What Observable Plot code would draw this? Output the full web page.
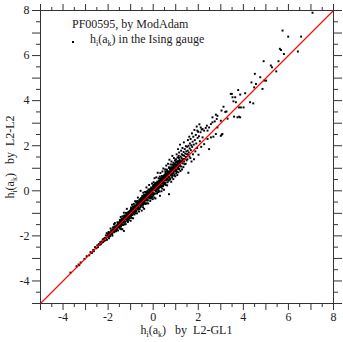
<!DOCTYPE html>
<html><head><meta charset="utf-8">
<script src="https://cdn.jsdelivr.net/npm/d3@7"></script>
<script src="https://cdn.jsdelivr.net/npm/@observablehq/plot@0.6"></script>
<style>
body{margin:0;background:#fff;}
#wrap{position:relative;width:343px;height:342px;font-family:"Liberation Serif",serif;color:#222;}
.lab{position:absolute;font-size:12px;white-space:nowrap;line-height:14px;}
.lab sub{font-size:8px;vertical-align:-3px;line-height:0;}
.mk{position:absolute;width:1.5px;height:1.5px;background:#000;}
</style></head><body><div id="wrap"></div>
<script>
const domainGL1 = [-5, 8];
const domainL2 = [-5, 8];
const majorTicks = [-5,-4,-3,-2,-1,0,1,2,3,4,5,6,7,8];
const minorTicks = [-4.5,-3.5,-2.5,-1.5,-0.5,0.5,1.5,2.5,3.5,4.5,5.5,6.5,7.5];
const labelTicks = [-4,-2,0,2,4,6,8];
const legendTitle = "PF00595, by ModAdam";
const legendSeries = "h<sub>i</sub>(a<sub>k</sub>) in the Ising gauge";
const xLabel = "h<sub>i</sub>(a<sub>k</sub>)&nbsp;&nbsp; by &nbsp;L2-GL1";
const yLabel = "h<sub>i</sub>(a<sub>k</sub>)&nbsp;&nbsp; by &nbsp;L2-L2";

// [h by L2-GL1, h by L2-L2]
const points = [
[-3.67,-3.63],[-3.4,-3.35],[-3.31,-3.27],[-3.28,-3.3],[-3.22,-3.18],[-3.05,-3.02],[-2.95,-2.9],[-2.84,-2.86],[-2.78,-2.72],[-2.72,-2.76],[-2.66,-2.62],[-2.63,-2.68],[-2.58,-2.5],[-2.52,-2.55],[-2.48,-2.42],[-2.45,-2.5],[-2.41,-2.36],[-2.38,-2.4],[-2.35,-2.28],[-2.32,-2.37],[-2.29,-2.25],[-2.27,-2.3],[-2.24,-2.16],[-2.22,-2.27],[-2.2,-2.14],[-2.18,-2.22],[-2.16,-2.1],
[-2.14,-2.09],[-2.12,-2.20],[-2.10,-1.98],[-2.08,-2.10],[-2.06,-1.88],[-2.05,-2.17],[-2.03,-2.00],[-2.01,-1.92],[-1.99,-2.04],[-1.98,-1.83],[-1.96,-2.11],[-1.94,-1.94],[-1.93,-1.86],[-1.91,-2.01],[-1.89,-1.67],[-1.88,-1.91],[-1.86,-1.75],[-1.84,-1.91],[-1.83,-1.79],[-1.81,-1.99],[-1.79,-1.71],[-1.78,-1.62],[-1.76,-1.80],[-1.75,-1.73],[-1.74,-1.48],[-1.73,-1.84],[-1.71,-1.58],[-1.70,-1.43],[-1.68,-1.74],[-1.67,-1.61],[-1.65,-1.79],[-1.64,-1.54],[-1.62,-1.61],[-1.61,-1.70],[-1.59,-1.40],[-1.58,-1.53],[-1.56,-1.76],[-1.55,-1.41],[-1.53,-1.55],[-1.52,-1.44],[-1.51,-1.63],[-1.37,-1.70],[-1.30,-1.78],
[-1.50,-1.45],[-1.49,-1.60],[-1.48,-1.29],[-1.47,-1.51],[-1.47,-1.34],[-1.46,-1.69],[-1.45,-1.43],[-1.44,-1.16],[-1.43,-1.59],[-1.42,-1.35],[-1.41,-1.48],[-1.40,-1.24],[-1.40,-1.71],[-1.39,-1.38],[-1.38,-1.27],[-1.37,-1.50],[-1.36,-1.13],[-1.35,-1.37],[-1.34,-1.30],[-1.33,-1.52],[-1.32,-1.19],[-1.31,-1.41],[-1.30,-0.97],[-1.29,-1.35],[-1.28,-1.20],[-1.28,-1.49],[-1.27,-1.24],[-1.26,-1.09],[-1.25,-1.40],[-1.24,-1.25],[-1.23,-1.15],[-1.22,-1.48],[-1.21,-0.98],[-1.20,-1.28],[-1.19,-1.08],[-1.18,-1.21],[-1.17,-0.80],[-1.16,-1.32],[-1.15,-1.11],[-1.14,-1.25],[-1.13,-1.02],[-1.12,-1.38],[-1.11,-0.95],[-1.10,-1.16],[-1.09,-1.04],[-1.08,-1.29],[-1.07,-0.92],[-1.06,-1.12],[-1.05,-0.99],[-1.04,-1.21],[-1.03,-0.88],[-1.02,-1.06],[-1.01,-1.17],[-1.00,-0.94],[-1.00,-1.33],
[-1.45,-1.47],[-1.38,-1.36],[-1.31,-1.30],[-1.24,-1.21],[-1.17,-1.15],[-1.10,-1.08],[-1.03,-1.02],
[-0.99,-0.86],[-0.99,-1.12],[-0.98,-0.74],[-0.97,-0.98],[-0.96,-0.82],[-0.95,-1.20],[-0.95,-0.93],[-0.94,-0.62],[-0.93,-1.05],[-0.92,-0.85],[-0.91,-0.97],[-0.90,-0.70],[-0.89,-1.22],[-0.89,-0.88],[-0.88,-0.76],[-0.87,-1.01],[-0.86,-0.58],[-0.85,-0.84],[-0.84,-0.73],[-0.83,-1.05],[-0.82,-0.67],[-0.81,-0.90],[-0.80,-0.46],[-0.80,-0.80],[-0.79,-0.66],[-0.78,-0.99],[-0.77,-0.71],[-0.76,-0.52],[-0.75,-0.88],[-0.74,-0.74],[-0.73,-0.62],[-0.72,-1.00],[-0.71,-0.45],[-0.70,-0.77],[-0.70,-0.58],[-0.69,-0.71],[-0.68,-0.30],[-0.67,-0.83],[-0.66,-0.59],[-0.65,-0.76],[-0.64,-0.50],[-0.63,-0.92],[-0.62,-0.42],[-0.61,-0.65],[-0.60,-0.52],[-0.60,-0.81],[-0.59,-0.38],[-0.58,-0.61],[-0.57,-0.47],[-0.56,-0.72],[-0.56,0.00],[-0.55,-0.33],[-0.54,-0.55],[-0.53,-0.66],[-0.52,-0.41],[-0.51,-0.88],[-0.50,-0.49],[-0.50,-0.30],
[-0.97,-0.95],[-0.90,-0.89],[-0.83,-0.81],[-0.76,-0.75],[-0.69,-0.67],[-0.62,-0.60],[-0.55,-0.53],
[-0.49,-0.35],[-0.49,-0.62],[-0.48,-0.22],[-0.47,-0.50],[-0.46,-0.32],[-0.45,-0.73],[-0.45,-0.44],[-0.44,-0.08],[-0.43,-0.58],[-0.42,-0.33],[-0.41,-0.46],[-0.40,-0.17],[-0.40,-0.80],[-0.39,-0.37],[-0.38,-0.23],[-0.37,-0.51],[-0.36,-0.05],[-0.35,-0.34],[-0.34,-0.26],[-0.33,-0.58],[-0.32,-0.15],[-0.31,-0.42],[-0.30,0.15],[-0.30,-0.30],[-0.29,-0.17],[-0.28,-0.55],[-0.27,-0.22],[-0.26,-0.01],[-0.25,-0.40],[-0.24,-0.23],[-0.23,-0.11],[-0.22,-0.56],[-0.21,0.06],[-0.20,-0.27],[-0.20,-0.06],[-0.19,-0.20],[-0.18,0.26],[-0.17,-0.34],[-0.16,-0.08],[-0.15,-0.29],[-0.14,0.00],[-0.13,-0.45],[-0.12,0.08],[-0.11,-0.15],[-0.10,-0.01],[-0.10,-0.34],[-0.09,0.15],[-0.08,-0.10],[-0.07,0.05],[-0.06,-0.26],[-0.05,0.32],[-0.05,-0.02],[-0.04,-0.14],[-0.03,0.11],[-0.02,-0.37],[-0.01,0.02],[0.00,0.19],[0.00,-0.21],
[-0.47,-0.41],[-0.43,-0.27],[-0.38,-0.40],[-0.34,-0.18],[-0.29,-0.36],[-0.25,-0.13],[-0.21,-0.30],[-0.17,-0.02],[-0.13,-0.22],[-0.09,-0.06],[-0.04,-0.25],[-0.02,0.08],
[-0.46,-0.45],[-0.39,-0.38],[-0.32,-0.30],[-0.25,-0.24],[-0.18,-0.16],[-0.11,-0.10],[-0.04,-0.03],
[0.01,0.16],[0.01,-0.16],[0.02,0.38],[0.03,0.04],[0.04,0.26],[0.05,-0.30],[0.05,0.10],[0.06,0.56],[0.07,-0.12],[0.08,0.22],[0.09,0.02],[0.10,0.35],[0.10,-0.34],[0.11,0.13],[0.12,0.28],[0.13,-0.03],[0.14,0.60],[0.15,0.18],[0.16,0.05],[0.17,-0.12],[0.18,0.41],[0.19,0.10],[0.20,0.80],[0.20,0.22],[0.21,0.36],[0.22,-0.06],[0.23,0.30],[0.24,0.55],[0.25,0.12],[0.26,0.27],[0.27,0.44],[0.28,-0.03],[0.29,0.63],[0.30,0.26],[0.30,-0.22],[0.31,0.33],[0.32,0.79],[0.33,0.16],[0.34,0.45],[0.35,0.24],[0.36,0.58],[0.37,-0.02],[0.38,0.66],[0.39,0.36],[0.40,0.49],[0.40,0.10],[0.41,0.86],[0.42,0.40],[0.43,0.56],[0.44,0.21],[0.45,0.99],[0.45,0.48],[0.46,0.33],[0.47,0.64],[0.48,0.05],[0.49,0.53],[0.50,0.71],[0.50,0.30],
[0.03,0.20],[0.07,0.30],[0.12,0.09],[0.16,0.34],[0.21,0.15],[0.26,0.45],[0.31,0.19],[0.35,0.40],[0.39,0.22],[0.43,0.42],[0.47,0.29],
[0.04,0.05],[0.11,0.12],[0.18,0.20],[0.25,0.26],[0.32,0.34],[0.39,0.41],[0.46,0.48],
[0.51,0.65],[0.52,0.35],[0.53,0.95],[0.54,0.58],[0.55,0.79],[0.56,0.26],[0.57,0.69],[0.58,1.12],[0.59,0.47],[0.60,0.75],[0.60,0.55],[0.61,0.94],[0.62,0.24],[0.63,0.71],[0.64,0.87],[0.65,0.52],[0.66,1.20],[0.67,0.76],[0.68,0.62],[0.69,0.45],[0.70,1.02],[0.70,-0.15],[0.71,0.78],[0.72,1.38],[0.73,0.85],[0.74,1.00],[0.75,0.50],[0.76,0.92],[0.77,1.17],[0.78,0.69],[0.79,0.85],[0.80,1.05],[0.80,0.40],[0.81,1.30],[0.82,0.88],[0.83,0.98],[0.84,0.60],[0.85,1.55],[0.86,0.96],[0.87,0.78],[0.88,1.12],[0.89,0.52],[0.90,1.04],[0.90,1.25],[0.91,0.85],[0.92,1.45],[0.93,1.00],[0.94,0.72],[0.95,1.19],[0.96,0.90],[0.97,1.35],[0.98,0.64],[0.99,1.08],[1.00,1.25],[1.00,0.88],
[0.54,0.72],[0.59,0.64],[0.65,0.80],[0.71,0.62],[0.76,0.84],[0.83,0.74],[0.88,0.95],[0.94,1.06],[0.99,0.95],
[0.53,0.56],[0.63,0.66],[0.73,0.76],[0.83,0.86],[0.93,0.97],
[1.01,1.40],[1.02,0.78],[1.03,1.16],[1.04,1.62],[1.05,0.95],[1.06,1.28],[1.07,0.70],[1.08,1.48],[1.09,1.13],[1.10,1.85],[1.10,1.00],[1.11,1.33],[1.12,0.82],[1.13,1.55],[1.14,1.22],[1.15,1.70],[1.16,0.96],[1.17,1.38],[1.18,1.15],[1.19,2.05],[1.20,1.30],[1.21,0.88],[1.22,1.52],[1.23,1.25],[1.24,1.78],[1.25,1.08],[1.26,1.45],[1.27,1.62],[1.28,0.95],[1.29,1.36],[1.30,1.90],[1.31,1.22],[1.32,1.58],[1.33,1.40],[1.34,1.05],[1.35,1.72],[1.36,2.15],[1.37,1.30],[1.38,1.55],[1.39,1.18],[1.40,1.85],[1.41,1.42],[1.42,1.65],[1.44,1.20],[1.45,1.98],[1.46,1.50],[1.47,1.75],[1.48,1.35],[1.50,1.62],
[1.05,1.10],[1.15,1.20],[1.25,1.30],[1.35,1.40],[1.45,1.50],
[1.51,1.95],[1.52,1.40],[1.53,1.78],[1.54,2.25],[1.55,1.60],[1.56,0.80],[1.57,2.00],[1.58,1.70],[1.60,2.40],[1.61,1.52],[1.62,1.88],[1.63,2.10],[1.65,1.45],[1.66,2.30],[1.67,1.80],[1.69,2.02],[1.70,1.30],[1.72,2.55],[1.73,1.95],[1.75,2.18],[1.76,1.62],[1.78,2.40],[1.80,2.05],[1.81,1.40],[1.83,2.70],[1.85,2.25],[1.87,1.75],[1.89,2.48],[1.91,2.10],[1.93,2.85],[1.95,1.90],[1.97,2.35],[1.99,2.62],[2.01,1.60],[2.03,2.42],[2.05,2.95],[2.07,2.20],[2.10,2.60],[2.11,2.81],[2.13,1.95],[2.15,2.72],
[2.19,2.74],[1.96,2.67],[2.41,2.30],[2.78,2.52],[2.26,2.07],
[2.19,2.37],[2.26,2.67],[2.33,2.79],[2.38,2.89],[2.41,2.67],[2.48,2.81],[2.48,1.85],[2.56,2.37],[2.56,2.96],[2.63,3.04],[2.63,3.26],[2.67,2.40],[2.73,3.08],[2.78,3.38],[2.82,3.19],[2.85,2.81],[2.85,3.33],[3.00,2.44],[3.00,3.11],[3.03,3.56],[3.04,2.49],[3.07,2.52],[3.12,3.73],[3.20,3.50],[3.25,3.52],[3.30,3.20],[3.44,4.30],[3.49,4.30],[3.52,4.15],[3.56,3.97],[3.59,3.29],[3.64,4.15],[3.67,3.93],[3.74,3.26],[3.77,4.47],[3.81,3.70],[3.81,3.29],[3.86,3.26],[3.86,4.27],[3.89,3.70],[4.01,3.70],[4.08,4.33],[4.30,3.93],[4.36,4.81],[4.44,3.88],[4.48,4.59],[4.51,5.19],[4.56,4.74],[4.75,5.04],[4.85,4.52],[4.90,5.75],[4.93,4.89],[5.01,4.89],[5.22,5.56],[5.27,5.48],[5.46,5.30],[5.56,5.75],[5.62,6.30],[5.67,6.25],[5.74,7.11],[5.80,6.07],[5.99,6.84],[6.42,6.18],[6.56,6.84],[7.07,7.90],
[-2.00,-1.94],[-1.98,-2.01],[-1.96,-1.86],[-1.94,-2.02],[-1.92,-1.91],[-1.90,-1.86],[-1.88,-1.93],[-1.86,-1.78],[-1.84,-1.85],[-1.82,-1.92],[-1.80,-1.77],[-1.78,-1.73],[-1.76,-1.80],[-1.74,-1.63],[-1.72,-1.78],[-1.70,-1.70],[-1.68,-1.61],[-1.66,-1.75],[-1.64,-1.61],[-1.62,-1.64],[-1.60,-1.54],[-1.58,-1.61],[-1.56,-1.46],[-1.54,-1.62],[-1.52,-1.51],[-1.50,-1.46],
[-1.49,-1.39],[-1.47,-1.51],[-1.46,-1.30],[-1.44,-1.56],[-1.43,-1.41],[-1.41,-1.35],[-1.40,-1.48],[-1.38,-1.25],[-1.37,-1.39],[-1.35,-1.51],[-1.34,-1.30],[-1.32,-1.24],[-1.31,-1.37],[-1.29,-1.11],[-1.28,-1.38],[-1.26,-1.26],[-1.25,-1.14],[-1.23,-1.37],[-1.22,-1.17],[-1.20,-1.23],[-1.19,-1.09],[-1.17,-1.21],[-1.16,-1.00],[-1.14,-1.26],[-1.13,-1.11],[-1.11,-1.05],[-1.10,-1.18],[-1.08,-0.95],[-1.07,-1.09],[-1.05,-1.21],[-1.04,-1.00],[-1.02,-0.94],[-1.01,-1.07],[-0.99,-0.81],[-0.98,-1.08],[-0.96,-0.96],[-0.95,-0.84],[-0.93,-1.07],[-0.92,-0.87],[-0.90,-0.93],[-0.89,-0.79],[-0.87,-0.91],[-0.86,-0.70],[-0.84,-0.96],[-0.83,-0.81],[-0.81,-0.75],[-0.80,-0.88],[-0.78,-0.65],[-0.77,-0.79],[-0.75,-0.91],[-0.74,-0.70],[-0.72,-0.64],[-0.71,-0.77],[-0.69,-0.51],[-0.68,-0.78],[-0.66,-0.66],[-0.65,-0.54],[-0.63,-0.77],[-0.62,-0.57],[-0.60,-0.63],[-0.59,-0.49],[-0.57,-0.61],[-0.56,-0.40],[-0.54,-0.66],[-0.53,-0.51],[-0.51,-0.45],
[-0.50,-0.37],[-0.48,-0.54],[-0.47,-0.25],[-0.45,-0.62],[-0.44,-0.42],[-0.42,-0.33],[-0.41,-0.52],[-0.39,-0.21],[-0.38,-0.40],[-0.36,-0.58],[-0.35,-0.29],[-0.33,-0.22],[-0.32,-0.40],[-0.30,-0.06],[-0.29,-0.42],[-0.27,-0.27],[-0.26,-0.11],[-0.24,-0.43],[-0.23,-0.16],[-0.21,-0.25],[-0.20,-0.07],[-0.18,-0.24],[-0.17,0.05],[-0.15,-0.32],[-0.14,-0.12],[-0.12,-0.03],[-0.11,-0.22],[-0.09,0.09],[-0.08,-0.10],[-0.06,-0.28],[-0.05,0.01],[-0.03,0.08],[-0.02,-0.10],[0.00,0.24],[0.01,-0.12],[0.03,0.03],[0.04,0.19],[0.06,-0.13],[0.07,0.14],[0.09,0.05],[0.10,0.23],[0.12,0.06],[0.13,0.35],[0.15,-0.02],[0.16,0.18],[0.18,0.27],[0.19,0.08],[0.21,0.39],[0.22,0.20],[0.24,0.02],[0.25,0.31],[0.27,0.38],[0.28,0.20],[0.30,0.54],[0.31,0.18],[0.33,0.33],[0.34,0.49],[0.36,0.17],[0.37,0.44],[0.39,0.35],[0.40,0.53],[0.42,0.36],[0.43,0.65],[0.45,0.28],[0.46,0.48],[0.48,0.57],[0.49,0.38],
[0.51,0.70],[0.52,0.47],[0.54,0.86],[0.55,0.36],[0.57,0.63],[0.58,0.73],[0.60,0.49],[0.61,0.87],[0.63,0.63],[0.64,0.38],[0.66,0.76],[0.67,0.84],[0.69,0.62],[0.70,1.04],[0.72,0.58],[0.73,0.76],[0.75,0.98],[0.76,0.54],[0.78,0.90],[0.79,0.77],[0.81,1.00],[0.82,0.77],[0.84,1.16],[0.85,0.66],[0.87,0.93],[0.88,1.03],[0.90,0.79],[0.91,1.17],[0.93,0.93],[0.94,0.68],[0.96,1.06],[0.97,1.14],[0.99,0.92],[1.00,1.34],[1.02,0.88],[1.03,1.06],[1.05,1.28],[1.06,0.84],[1.08,1.20],[1.09,1.07],[1.11,1.30],[1.12,1.07],[1.14,1.46],[1.15,0.96],[1.17,1.23],[1.18,1.33],[1.20,1.09]
];

const diagonal = [{x1: domainGL1[0], y1: domainL2[0], x2: domainGL1[1], y2: domainL2[1]}];
const blank = () => "";
const axisStyle = {stroke: "#333"};

const chart = Plot.plot({
  width: 343, height: 342,
  marginLeft: 40, marginRight: 10, marginTop: 10, marginBottom: 39,
  style: {fontFamily: "Liberation Serif, serif", fontSize: "12px", background: "#fff"},
  x: {domain: domainGL1},
  y: {domain: domainL2},
  marks: [
    Plot.dot(points, {x: d => d[0], y: d => d[1], r: 1.1, symbol: "square", fill: "black", stroke: "none"}),
    Plot.link(diagonal, {x1: "x1", y1: "y1", x2: "x2", y2: "y2", stroke: "#ff0000", strokeWidth: 1.1, strokeOpacity: 1}),
    Plot.frame({stroke: "#333"}),
    Plot.axisX({anchor: "bottom", ticks: majorTicks, tickSize: 7, tickPadding: 2, tickFormat: d => labelTicks.includes(d) ? String(d) : "", label: null, ...axisStyle}),
    Plot.axisX({anchor: "bottom", ticks: minorTicks, tickSize: 4, tickFormat: blank, label: null, ...axisStyle}),
    Plot.axisX({anchor: "top", ticks: majorTicks, tickSize: 7, tickFormat: blank, label: null, ...axisStyle}),
    Plot.axisX({anchor: "top", ticks: minorTicks, tickSize: 4, tickFormat: blank, label: null, ...axisStyle}),
    Plot.axisY({anchor: "left", ticks: majorTicks, tickSize: 8, tickPadding: 3, tickFormat: d => labelTicks.includes(d) ? String(d) : "", label: null, ...axisStyle}),
    Plot.axisY({anchor: "left", ticks: minorTicks, tickSize: 4, tickFormat: blank, label: null, ...axisStyle}),
    Plot.axisY({anchor: "right", ticks: majorTicks, tickSize: 8, tickFormat: blank, label: null, ...axisStyle}),
    Plot.axisY({anchor: "right", ticks: minorTicks, tickSize: 4, tickFormat: blank, label: null, ...axisStyle})
  ]
});

const wrap = document.getElementById("wrap");
wrap.appendChild(chart);

function addLabel(html, css) {
  const d = document.createElement("div");
  d.className = "lab";
  d.innerHTML = html;
  Object.assign(d.style, css);
  wrap.appendChild(d);
  return d;
}
addLabel(legendTitle, {left: "72px", top: "17px"});
addLabel(legendSeries, {left: "90px", top: "32px"});
const mk = document.createElement("div");
mk.className = "mk";
Object.assign(mk.style, {left: "72px", top: "41px"});
wrap.appendChild(mk);
addLabel(xLabel, {left: "186.5px", top: "325px", lineHeight: "11px", transform: "translateX(-50%)"});
addLabel(yLabel, {left: "10px", top: "156.5px", transform: "translate(-50%,-50%) rotate(-90deg)"});
</script>
</body></html>
